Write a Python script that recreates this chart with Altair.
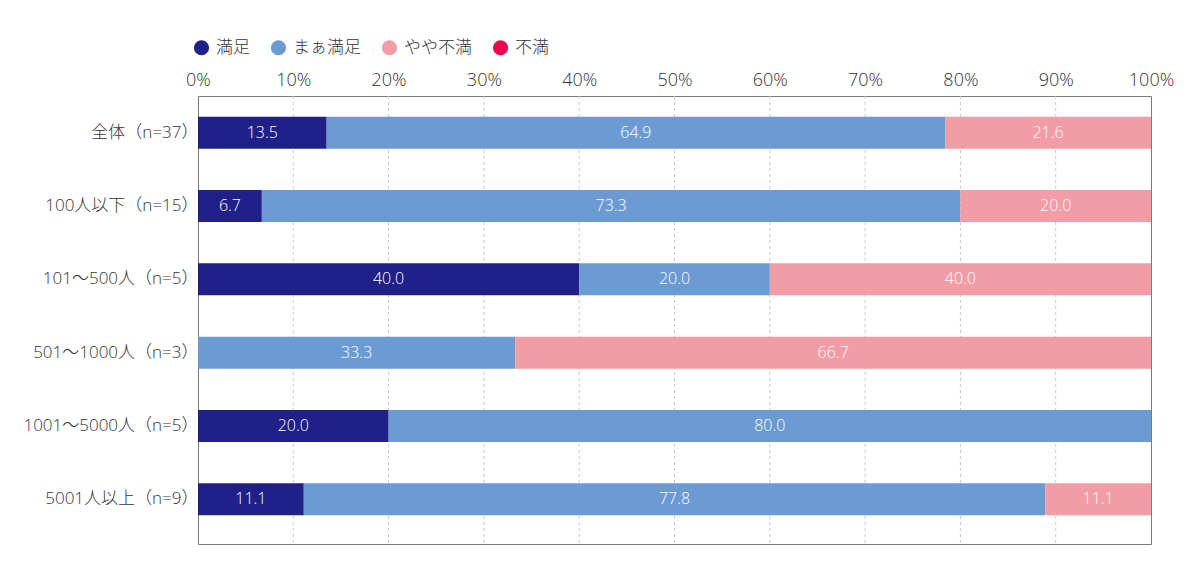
import altair as alt
import pandas as pd

categories = ["全体（n=37）", "100人以下（n=15）", "101～500人（n=5）",
              "501～1000人（n=3）", "1001～5000人（n=5）", "5001人以上（n=9）"]
series = ["満足", "まぁ満足", "やや不満", "不満"]
colors = ["#1f2088", "#6b9bd2", "#f29ca5", "#e8094e"]

manzoku = [13.5, 6.7, 40.0, 0.0, 20.0, 11.1]
maa_manzoku = [64.9, 73.3, 20.0, 33.3, 80.0, 77.8]
yaya_fuman = [21.6, 20.0, 40.0, 66.7, 0.0, 11.1]
fuman = [0.0, 0.0, 0.0, 0.0, 0.0, 0.0]

tick_values = list(range(0, 101, 10))
grid_values = list(range(10, 100, 10))

values = [manzoku, maa_manzoku, yaya_fuman, fuman]

rows = []
for ci, cat in enumerate(categories):
    start = 0.0
    for si, s in enumerate(series):
        v = values[si][ci]
        rows.append({"cat": cat, "series": s, "order": si, "value": v,
                     "start": start, "end": start + v, "mid": start + v / 2})
        start += v
df = pd.DataFrame(rows)

FONT = "'Open Sans', 'Noto Sans CJK JP'"
TXT = "#333333"

xscale = alt.Scale(domain=[0, 100], nice=False)
xaxis = alt.Axis(orient="top", values=tick_values,
                 labelExpr="datum.value + '%'", labelFontSize=18,
                 labelFontWeight=300, labelFlush=False,
                 labelColor=TXT, labelFont=FONT, labelPadding=7,
                 ticks=False, domain=False, grid=False)

grid = alt.Chart(pd.DataFrame({"g": grid_values})).mark_rule(
    color="#c8c8c8", strokeDash=[3, 3], strokeWidth=1
).encode(x=alt.X("g:Q", scale=xscale, axis=xaxis, title=None))

base = alt.Chart(df).transform_filter("datum.value > 0")

y_enc = alt.Y("cat:N", sort=categories, title=None,
              scale=alt.Scale(range=[0, 440], paddingInner=0.564, paddingOuter=0.282),
              axis=alt.Axis(labelFontSize=17, labelColor=TXT, labelPadding=0,
                            labelFontWeight=300,
                            ticks=False, domain=False, labelFont=FONT, grid=False))

bars = base.mark_bar().encode(
    x=alt.X("start:Q", scale=xscale, title=None, axis=xaxis),
    x2="end:Q",
    y=y_enc,
    color=alt.Color("series:N", scale=alt.Scale(domain=series, range=colors), title=None,
                    legend=alt.Legend(orient="none", legendX=-5, legendY=-57,
                                      direction="horizontal", symbolType="circle",
                                      symbolSize=230, symbolStrokeWidth=0,
                                      labelFontSize=17, labelColor=TXT,
                                      labelFontWeight=300,
                                      labelFont=FONT, labelOffset=6, columnPadding=20,
                                      padding=0)),
    order=alt.Order("order:Q"),
)

labels = base.mark_text(color="white", fontSize=16, font=FONT, fontWeight=300).encode(
    x=alt.X("mid:Q"),
    y=alt.Y("cat:N", sort=categories),
    text=alt.Text("value:Q", format=".1f"),
)

chart = (grid + bars + labels).properties(
    width=953, height=448, background="white",
    autosize=alt.AutoSizeParams(type="none"),
    padding={"left": 190, "top": 88, "right": 40, "bottom": 30},
).configure_view(stroke="#7a7a7a", strokeWidth=1)

chart.save("out.html", embed_options={"renderer": "svg", "actions": False})
